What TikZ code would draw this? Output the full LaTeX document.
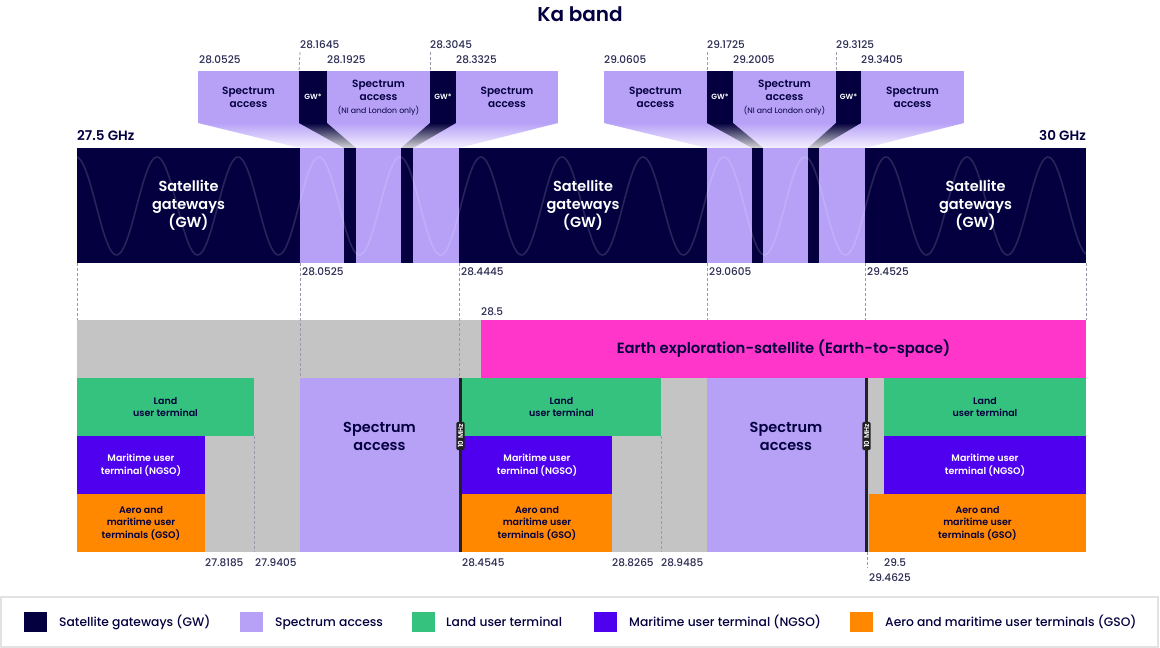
\documentclass[tikz,border=0pt]{standalone}
\usepackage{fontspec}
\setmainfont{Poppins}[BoldFont={Poppins SemiBold}]
\newfontfamily\medfont{Poppins Medium}
\usetikzlibrary{calc}
\definecolor{navy}{HTML}{04003F}
\definecolor{lav}{HTML}{B7A1F7}
\definecolor{lavfade}{HTML}{F4F0FF}
\definecolor{grn}{HTML}{35C27F}
\definecolor{purp}{HTML}{4F00EE}
\definecolor{orng}{HTML}{FF8800}
\definecolor{pnk}{HTML}{FF36C9}
\definecolor{gry}{HTML}{C4C4C4}
\definecolor{txt}{HTML}{2A2A52}
\definecolor{dash}{HTML}{9A9AAE}
\definecolor{blackbar}{HTML}{222222}
\definecolor{legline}{HTML}{E2E2E2}
\newcommand{\blk}[7][]{\node[blk,fill=#7,minimum width={#5-#3},minimum height={#6-#4},#1] (#2) at (#3,#4) {};}
\tikzset{
  blk/.style={anchor=north west,inner sep=0pt,outer sep=0pt,draw=none,rectangle},
  num/.style={anchor=west,inner sep=0pt,text=txt,font=\medfont\fontsize{10.5}{12}\selectfont},
  gwtxt/.style={text=white,align=center,font=\bfseries\fontsize{14.5}{18}\selectfont},
  boxtxt/.style={text=navy,align=center,font=\bfseries\fontsize{10.5}{13}\selectfont},
  smalltxt/.style={align=center,font=\bfseries\fontsize{9.5}{12.5}\selectfont},
  gwstar/.style={text=white,font=\bfseries\fontsize{7.5}{9}\selectfont},
  vline/.style={draw=dash,line width=0.8pt,dash pattern=on 3pt off 2pt},
  mhzlabel/.style={fill=blackbar,text=white,rounded corners=1.5pt,inner xsep=2.5pt,inner ysep=1.5pt,rotate=90,font=\bfseries\fontsize{7}{8}\selectfont},
  legtxt/.style={anchor=base west,inner sep=0pt,text=navy,font=\medfont\fontsize{12.3}{14}\selectfont},
}
\begin{document}
\begin{tikzpicture}[x=1pt,y=-1pt]
\useasboundingbox (0,0) rectangle (1160,648);
\fill[white] (0,0) rectangle (1160,648);

% title
\node[text=navy,font=\bfseries\fontsize{20}{24}\selectfont] (title) at (580,14) {Ka band};
\node[anchor=west,inner sep=0pt,text=navy,font=\bfseries\fontsize{13.5}{16}\selectfont] (f0) at (77,136) {27.5 GHz};
\node[anchor=east,inner sep=0pt,text=navy,font=\bfseries\fontsize{13.5}{16}\selectfont] (f1) at (1086,136) {30 GHz};

% ---------- projections ----------
\shade[top color=lav,bottom color=lavfade] (198,123) -- (558,123) -- (459,148) -- (300,148) -- cycle;
\shade[top color=navy,bottom color=gry!70] (299,123) -- (327,123) -- (356,148) -- (344,148) -- cycle;
\shade[top color=navy,bottom color=gry!70] (430,123) -- (456,123) -- (413,148) -- (401,148) -- cycle;
\shade[top color=lav,bottom color=lavfade] (604,123) -- (964,123) -- (865,148) -- (707,148) -- cycle;
\shade[top color=navy,bottom color=gry!70] (707,123) -- (733,123) -- (763,148) -- (752,148) -- cycle;
\shade[top color=navy,bottom color=gry!70] (836,123) -- (861,123) -- (819,148) -- (808,148) -- cycle;

% ---------- zoom boxes ----------
\blk{zl1}{198}{71}{299}{123}{lav}
\blk{zl2}{299}{71}{327}{123}{navy}
\blk{zl3}{327}{71}{430}{123}{lav}
\blk{zl4}{430}{71}{456}{123}{navy}
\blk{zl5}{456}{71}{558}{123}{lav}
\blk{zr1}{604}{71}{707}{123}{lav}
\blk{zr2}{707}{71}{733}{123}{navy}
\blk{zr3}{733}{71}{836}{123}{lav}
\blk{zr4}{836}{71}{861}{123}{navy}
\blk{zr5}{861}{71}{964}{123}{lav}
\node[boxtxt] (tl1) at (zl1.center) {Spectrum\\access};
\node[gwstar] (tl2) at (zl2.center) {GW*};
\node[boxtxt,anchor=north] (tl3) at ($(zl3.north)+(0,6)$) {Spectrum\\access};
\node[text=navy,font=\fontsize{7.8}{9}\selectfont] (tl3b) at ($(zl3.center)+(0,14)$) {(NI and London only)};
\node[gwstar] (tl4) at (zl4.center) {GW*};
\node[boxtxt] (tl5) at (zl5.center) {Spectrum\\access};
\node[boxtxt] (tr1) at (zr1.center) {Spectrum\\access};
\node[gwstar] (tr2) at (zr2.center) {GW*};
\node[boxtxt,anchor=north] (tr3) at ($(zr3.north)+(0,6)$) {Spectrum\\access};
\node[text=navy,font=\fontsize{7.8}{9}\selectfont] (tr3b) at ($(zr3.center)+(0,14)$) {(NI and London only)};
\node[gwstar] (tr4) at (zr4.center) {GW*};
\node[boxtxt] (tr5) at (zr5.center) {Spectrum\\access};

% numbers above zoom boxes
\node[num] (a1) at (199,60) {28.0525};
\node[num] (a2) at (300,45) {28.1645};
\node[num] (a3) at (327,60) {28.1925};
\node[num] (a4) at (430,45) {28.3045};
\node[num] (a5) at (456,60) {28.3325};
\node[num] (b1) at (604,60) {29.0605};
\node[num] (b2) at (707,45) {29.1725};
\node[num] (b3) at (733,60) {29.2005};
\node[num] (b4) at (836,45) {29.3125};
\node[num] (b5) at (861,60) {29.3405};
\coordinate (ta2) at (300,52); \coordinate (ta4) at (430,52);
\coordinate (tb2) at (707,52); \coordinate (tb4) at (836,52);
\draw[vline] (ta2) -- (zl2.north west);
\draw[vline] (ta4) -- (zl4.north west);
\draw[vline] (tb2) -- (zr2.north west);
\draw[vline] (tb4) -- (zr4.north west);

% ---------- main band ----------
\blk{g1}{77}{148}{300}{263}{navy}
\blk{s1}{300}{148}{459}{263}{lav}
\blk{g2}{459}{148}{707}{263}{navy}
\blk{s2}{707}{148}{865}{263}{lav}
\blk{g3}{865}{148}{1086}{263}{navy}
\blk{d1}{344}{148}{356}{263}{navy}
\blk{d2}{401}{148}{413}{263}{navy}
\blk{d3}{752}{148}{763}{263}{navy}
\blk{d4}{808}{148}{819}{263}{navy}
\begin{scope}
\clip (77,148) rectangle (1086,263);
\draw[white,opacity=0.14,line width=1.6pt] plot[domain=77:1086,samples=500,smooth] (\x,{206-49*cos(4.44444*(\x-157))});
\end{scope}
\node[gwtxt] (gt1) at (g1.center) {Satellite\\gateways\\(GW)};
\node[gwtxt] (gt2) at (g2.center) {Satellite\\gateways\\(GW)};
\node[gwtxt] (gt3) at (g3.center) {Satellite\\gateways\\(GW)};

% numbers under band
\node[num] (c1) at (302,272) {28.0525};
\node[num] (c2) at (461,272) {28.4445};
\node[num] (c3) at (709,272) {29.0605};
\node[num] (c4) at (867,272) {29.4525};
\node[num] (c5) at (481,312) {28.5};

% ---------- lower area ----------
\blk{bg}{77}{320}{1086}{552}{gry}
\blk{ees}{481}{320}{1086}{378}{pnk}
\node[text=navy,font=\bfseries\fontsize{14.8}{17}\selectfont] (eest) at (ees.center) {Earth exploration-satellite (Earth-to-space)};

% dashed verticals
\coordinate (v0) at (77,263); \coordinate (v0b) at (77,320);
\coordinate (v1) at (300,263); \coordinate (v1b) at (300,378);
\coordinate (v2) at (459,263); \coordinate (v2b) at (459,378);
\coordinate (v3) at (707,263); \coordinate (v3b) at (707,320);
\coordinate (v4) at (865,263); \coordinate (v4b) at (865,320);
\coordinate (v5) at (1086,263); \coordinate (v5b) at (1086,320);
\draw[vline] (v0) -- (v0b);
\draw[vline] (v1) -- (v1b);
\draw[vline] (v2) -- (v2b);
\draw[vline] (v3) -- (v3b);
\draw[vline] (v4) -- (v4b);
\draw[vline] (v5) -- (v5b);
\coordinate (w1) at (254,436); \coordinate (w1b) at (254,552);
\coordinate (w2) at (661,436); \coordinate (w2b) at (661,552);
\coordinate (w3) at (867,552); \coordinate (w3b) at (867,568);
\draw[vline] (w1) -- (w1b);
\draw[vline] (w2) -- (w2b);
\draw[vline] (w3) -- (w3b);

% left group
\blk{l1}{77}{378}{254}{436}{grn}
\blk{l2}{77}{436}{205}{494}{purp}
\blk{l3}{77}{494}{205}{552}{orng}
\node[smalltxt,text=navy] (lt1) at (l1.center) {Land\\user terminal};
\node[smalltxt,text=white] (lt2) at (l2.center) {Maritime user\\terminal (NGSO)};
\node[smalltxt,text=navy] (lt3) at (l3.center) {Aero and\\maritime user\\terminals (GSO)};
% spectrum access 1
\blk{sa1}{300}{378}{459}{552}{lav}
\node[text=navy,align=center,font=\bfseries\fontsize{14.5}{18}\selectfont] (sat1) at (379.5,436) {Spectrum\\access};
% middle group
\blk{m1}{462}{378}{661}{436}{grn}
\blk{m2}{462}{436}{612}{494}{purp}
\blk{m3}{462}{494}{612}{552}{orng}
\node[smalltxt,text=navy] (mt1) at (m1.center) {Land\\user terminal};
\node[smalltxt,text=white] (mt2) at (m2.center) {Maritime user\\terminal (NGSO)};
\node[smalltxt,text=navy] (mt3) at (m3.center) {Aero and\\maritime user\\terminals (GSO)};
% spectrum access 2
\blk{sa2}{707}{378}{865}{552}{lav}
\node[text=navy,align=center,font=\bfseries\fontsize{14.5}{18}\selectfont] (sat2) at (786,436) {Spectrum\\access};
% right group
\blk{r1}{884}{378}{1086}{436}{grn}
\blk{r2}{884}{436}{1086}{494}{purp}
\blk{r3}{869}{494}{1086}{552}{orng}
\node[smalltxt,text=navy] (rt1) at (r1.center) {Land\\user terminal};
\node[smalltxt,text=white] (rt2) at (r2.center) {Maritime user\\terminal (NGSO)};
\node[smalltxt,text=navy] (rt3) at (r3.center) {Aero and\\maritime user\\terminals (GSO)};

% 10 MHz bars
\blk{k1}{459}{378}{462}{552}{blackbar}
\blk{k2}{865}{378}{868}{552}{blackbar}
\node[mhzlabel] (kl1) at (460.5,436) {10 MHz};
\node[mhzlabel] (kl2) at (866.5,436) {10 MHz};

% numbers below
\node[num] (e1) at (205,563) {27.8185};
\node[num] (e2) at (255,563) {27.9405};
\node[num] (e3) at (462,563) {28.4545};
\node[num] (e4) at (612,563) {28.8265};
\node[num] (e5) at (661,563) {28.9485};
\node[num] (e6) at (884,563) {29.5};
\node[num] (e7) at (869,578) {29.4625};

% ---------- legend ----------
\draw[legline,line width=1.6pt] (1,597) rectangle (1158,647);
\blk{q1}{24}{612}{47}{632}{navy}
\blk{q2}{240}{612}{263}{632}{lav}
\blk{q3}{412}{612}{435}{632}{grn}
\blk{q4}{594}{612}{617}{632}{purp}
\blk{q5}{850}{612}{873}{632}{orng}
\node[legtxt] (qt1) at (59,626.5) {Satellite gateways (GW)};
\node[legtxt] (qt2) at (275,626.5) {Spectrum access};
\node[legtxt] (qt3) at (446,626.5) {Land user terminal};
\node[legtxt] (qt4) at (629,626.5) {Maritime user terminal (NGSO)};
\node[legtxt] (qt5) at (885,626.5) {Aero and maritime user terminals (GSO)};
\end{tikzpicture}
\end{document}
